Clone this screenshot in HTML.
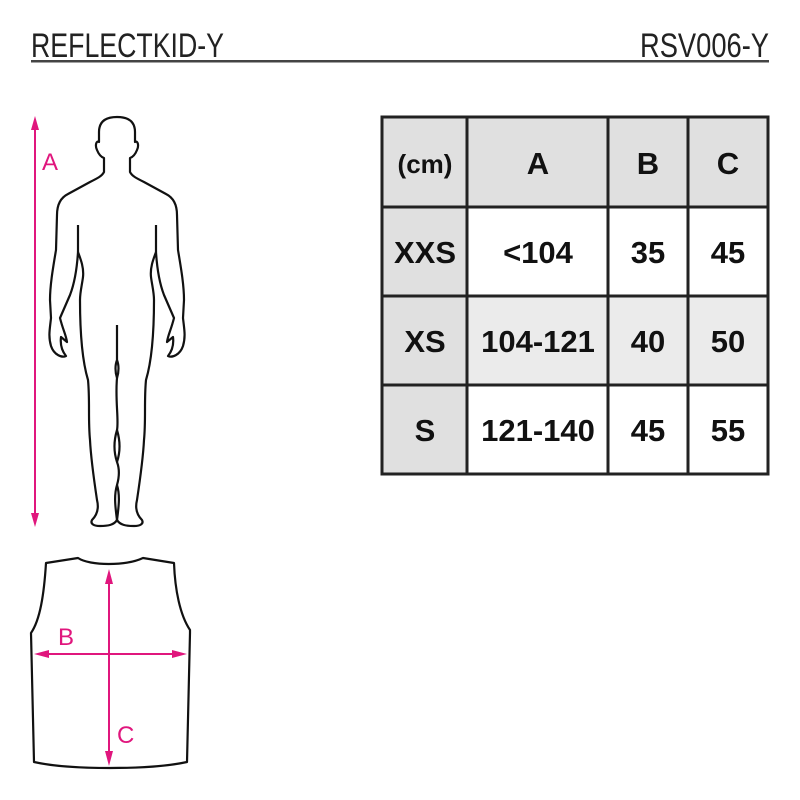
<!DOCTYPE html>
<html><head><meta charset="utf-8"><style>html,body{margin:0;padding:0;background:#fff}svg{display:block}</style></head>
<body>
<svg width="800" height="800" viewBox="0 0 800 800" xmlns="http://www.w3.org/2000/svg" font-family="Liberation Sans, sans-serif">
<rect width="800" height="800" fill="#fff"/>
<text x="31" y="57" font-size="34" fill="#222" textLength="193" lengthAdjust="spacingAndGlyphs">REFLECTKID-Y</text>
<text x="640" y="57" font-size="34" fill="#222" textLength="129" lengthAdjust="spacingAndGlyphs">RSV006-Y</text>
<rect x="31" y="60" width="738" height="2.5" fill="#444"/>

<!-- Table -->
<rect x="382" y="117" width="386" height="90" fill="#e0e0e0"/>
<rect x="382" y="207" width="85" height="267" fill="#e0e0e0"/>
<rect x="467" y="296" width="301" height="89" fill="#ebebeb"/>
<g stroke="#222" stroke-width="3" fill="none">
<rect x="382" y="117" width="386" height="357"/>
<line x1="467" y1="117" x2="467" y2="474"/>
<line x1="608" y1="117" x2="608" y2="474"/>
<line x1="688" y1="117" x2="688" y2="474"/>
<line x1="382" y1="207" x2="768" y2="207"/>
<line x1="382" y1="296" x2="768" y2="296"/>
<line x1="382" y1="385" x2="768" y2="385"/>
</g>
<g font-weight="bold" fill="#111" text-anchor="middle" font-size="31">
<text x="425" y="173" font-size="26">(cm)</text>
<text x="538" y="174">A</text><text x="648" y="174">B</text><text x="728" y="174">C</text>
<text x="425" y="263">XXS</text><text x="538" y="263">&lt;104</text><text x="648" y="263">35</text><text x="728" y="263">45</text>
<text x="425" y="352">XS</text><text x="538" y="352">104-121</text><text x="648" y="352">40</text><text x="728" y="352">50</text>
<text x="425" y="441">S</text><text x="538" y="441">121-140</text><text x="648" y="441">45</text><text x="728" y="441">55</text>
</g>

<!-- Body arrow A -->
<g stroke="#e0167d" fill="#e0167d" stroke-width="2">
<line x1="35" y1="125" x2="35" y2="518"/>
<polygon points="35,116 31,130 39,130" stroke="none"/>
<polygon points="35,527 31,513 39,513" stroke="none"/>
</g>
<text x="42" y="170" font-size="24" fill="#e0167d">A</text>

<!-- Body figure -->
<g stroke="#111" stroke-width="2.2" fill="none" stroke-linejoin="round">
<path id="half" d="M117,117 C105,117 99,122 99,132 L99,142 C96,140 95,146 97,150 C99,155 101,157 104,158 L104,172 C102,176 98,178 90,182 L68,194 C60,198 57,205 57,215 L56,250 C53,268 50,285 50,300 L51,318 C50,328 48,336 51,346 C54,355 62,358 66,356 C62,351 60,345 61,337 L67,342 C66,335 63,330 60,318 L70,295 C75,282 77,268 78,252 C81,260 84,268 83,277 C82,285 80,292 80,300 C80,330 82,360 88,380 C90,400 88,420 90,440 C91,460 94,480 97,500 C99,508 97,515 92,520 C90,524 94,526 100,526 C108,526 114,525 117,520"/>
<use href="#half" transform="translate(234,0) scale(-1,1)"/>
<line x1="78" y1="225" x2="78" y2="252"/>
<line x1="156" y1="225" x2="156" y2="252"/>
<path d="M117,325 L117,360 C115,365 115,372 117,378 C115,400 119,420 117,430 C114,440 113,450 117,462 C120,470 119,478 117,485 C114,495 115,505 117,520"/>
<path d="M117,360 C119,365 119,372 117,378 M117,430 C120,440 121,450 117,462 M117,485 C120,495 119,505 117,520"/>
</g>

<!-- Vest -->
<path d="M46,563 L78,558 C90,566 126,566 143,558 L174,563 C175,590 180,615 190,630 L190,633 L187,762 C150,770 70,770 34,762 L31,633 C40,620 44,595 46,563 Z" fill="none" stroke="#111" stroke-width="2.2" stroke-linejoin="round"/>
<g stroke="#e0167d" fill="#e0167d" stroke-width="2">
<line x1="109" y1="578" x2="109" y2="758"/>
<polygon points="109,569 105,584 113,584" stroke="none"/>
<polygon points="109,766 105,751 113,751" stroke="none"/>
<line x1="42" y1="654" x2="180" y2="654"/>
<polygon points="34,654 49,650 49,658" stroke="none"/>
<polygon points="187,654 172,650 172,658" stroke="none"/>
</g>
<text x="58" y="645" font-size="24" fill="#e0167d">B</text>
<text x="117" y="743" font-size="24" fill="#e0167d">C</text>
</svg>
</body></html>
